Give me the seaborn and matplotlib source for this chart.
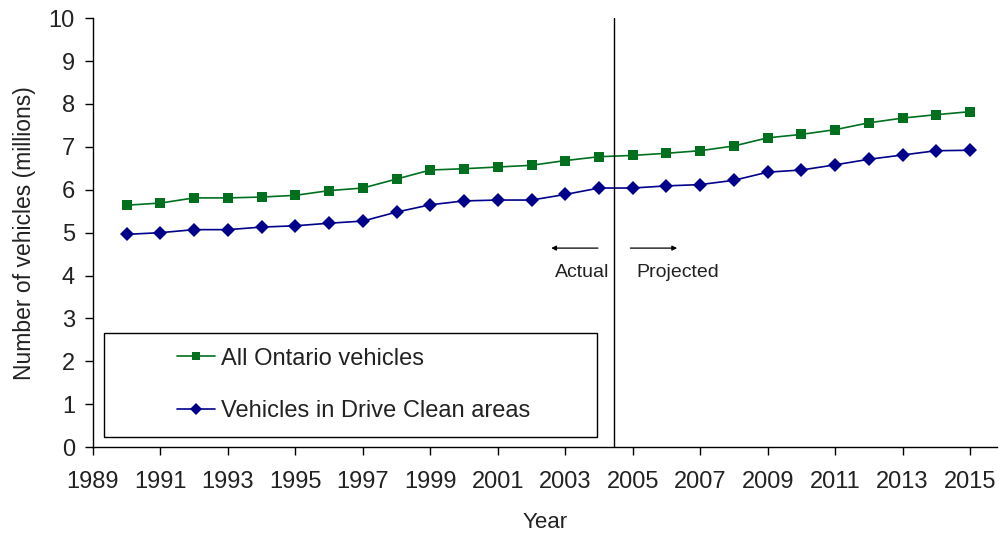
import pandas as pd
import matplotlib
matplotlib.use("Agg")
import matplotlib.pyplot as plt
import matplotlib.patches as patches
import seaborn as sns

# Data (millions of vehicles)
years = list(range(1990, 2016))
all_ontario = [5.64, 5.69, 5.81, 5.81, 5.83, 5.87, 5.98, 6.04, 6.25, 6.46,
               6.49, 6.53, 6.57, 6.68, 6.77, 6.80, 6.85, 6.91, 7.02, 7.21,
               7.29, 7.40, 7.56, 7.67, 7.75, 7.82]
drive_clean = [4.96, 5.00, 5.07, 5.07, 5.13, 5.16, 5.22, 5.27, 5.48, 5.65,
               5.74, 5.76, 5.76, 5.89, 6.04, 6.04, 6.09, 6.12, 6.22, 6.41,
               6.46, 6.58, 6.71, 6.81, 6.91, 6.92]
series_names = ["All Ontario vehicles", "Vehicles in Drive Clean areas"]
x_ticks = list(range(1989, 2016, 2))
y_ticks = list(range(0, 11))

df = pd.DataFrame({"Year": years, series_names[0]: all_ontario,
                   series_names[1]: drive_clean})

sns.set_style("ticks")
plt.rcParams['font.family'] = ['Liberation Sans', 'DejaVu Sans']
plt.rcParams['text.color'] = '#222222'
plt.rcParams['axes.labelcolor'] = '#222222'
plt.rcParams['xtick.color'] = '#222222'
plt.rcParams['ytick.color'] = '#222222'

fig = plt.figure(figsize=(10, 5.33), dpi=100)
ax = fig.add_axes([0.093, 0.161, 0.904, 0.805])

sns.lineplot(data=df, x="Year", y=series_names[0], ax=ax, color="#00701f",
             marker="s", markersize=6.5, markeredgewidth=0, linewidth=1.2,
             label=series_names[0])
sns.lineplot(data=df, x="Year", y=series_names[1], ax=ax, color="#00008b",
             marker="D", markersize=7.5, markeredgewidth=0, linewidth=1.2,
             label=series_names[1])

# actual / projected divider
ax.axvline(2004.45, color="black", linewidth=1)
ax.annotate("", xy=(2002.5, 4.64), xytext=(2004.05, 4.64),
            arrowprops=dict(arrowstyle="-|>", color="black", lw=0.9,
                            mutation_scale=7))
ax.annotate("", xy=(2006.4, 4.64), xytext=(2004.85, 4.64),
            arrowprops=dict(arrowstyle="-|>", color="black", lw=0.9,
                            mutation_scale=7))
ax.text(2003.5, 4.06, "Actual", ha="center", va="center", fontsize=14)
ax.text(2006.35, 4.06, "Projected", ha="center", va="center", fontsize=14)

ax.set_xlim(1989, 2015.8)
ax.set_ylim(0, 10)
ax.set_xticks(x_ticks)
ax.set_yticks(y_ticks)
ax.tick_params(axis="both", direction="out", length=6, width=1,
               labelsize=17, color="black")
ax.tick_params(axis="x", pad=11)
ax.tick_params(axis="y", pad=7)
ax.set_xlabel("Year", fontsize=16, labelpad=14)
ax.set_ylabel("Number of vehicles (millions)", fontsize=16.5, labelpad=9)
sns.despine(ax=ax)
for s in ["left", "bottom"]:
    ax.spines[s].set_color("black")
    ax.spines[s].set_linewidth(1)

# legend box
ax.add_patch(patches.Rectangle((0.012, 0.023), 0.546, 0.243,
                               transform=ax.transAxes, fill=False,
                               edgecolor="black", linewidth=1, zorder=3))
ax.legend(loc="center left", bbox_to_anchor=(0.093, 0.145), frameon=False,
          fontsize=17, labelspacing=1.3, handlelength=1.6, handletextpad=0.25,
          borderpad=0, borderaxespad=0, markerscale=0.8)

fig.savefig("out.png", dpi=100)
